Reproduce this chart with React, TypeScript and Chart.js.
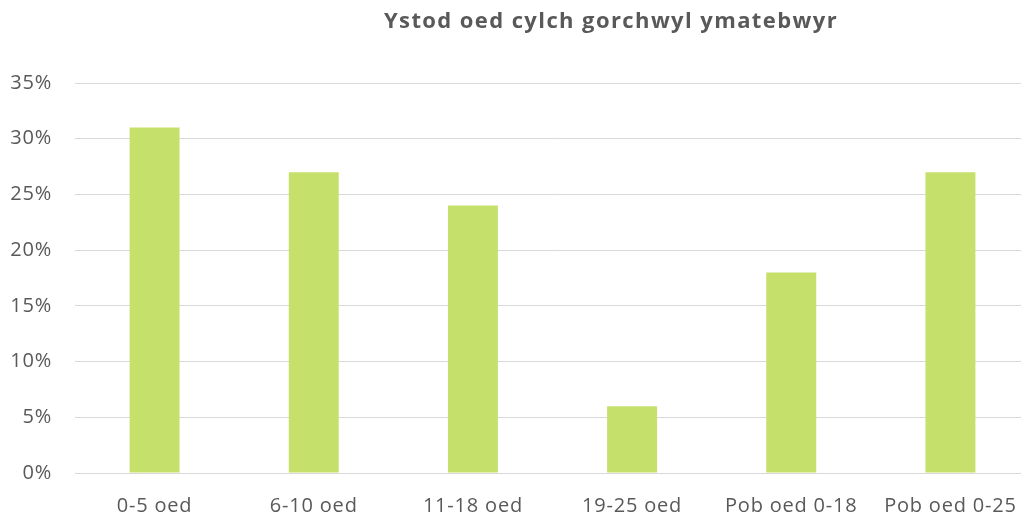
import React, { useEffect, useRef } from "react";
import { Chart, registerables } from "chart.js";

Chart.register(...registerables);

const TITLE = "Ystod oed cylch gorchwyl ymatebwyr";
const CATEGORIES = ["0-5 oed", "6-10 oed", "11-18 oed", "19-25 oed", "Pob oed 0-18", "Pob oed 0-25"];
const VALUES = [0.31, 0.27, 0.24, 0.06, 0.18, 0.27];
const Y_MAX = 0.35;
const Y_STEP = 0.05;

const FONT = "'Open Sans', 'DejaVu Sans', sans-serif";
const TEXT_COLOR = "#595959";
const BAR_COLOR = "#C5E16C";
const GRID_COLOR = "#D9D9D9";

const spacingPlugin = {
  id: "letterSpacing",
  beforeInit(chart: any) {
    chart.ctx.letterSpacing = "0.8px";
  },
  beforeDraw(chart: any) {
    chart.ctx.letterSpacing = "0.8px";
  },
};

const titlePlugin = {
  id: "customTitle",
  afterDraw(chart: any) {
    const ctx = chart.ctx;
    ctx.save();
    ctx.letterSpacing = "1.4px";
    ctx.font = `bold 22px ${FONT}`;
    ctx.fillStyle = TEXT_COLOR;
    ctx.textAlign = "center";
    ctx.textBaseline = "middle";
    ctx.fillText(TITLE, 611, 22);
    ctx.restore();
  },
};

export default function App() {
  const ref = useRef<HTMLCanvasElement | null>(null);
  useEffect(() => {
    if (!ref.current) return;
    const ctx2d: any = ref.current.getContext("2d");
    if (ctx2d) ctx2d.letterSpacing = "0.8px";
    const chart = new Chart(ref.current, {
      type: "bar",
      data: {
        labels: CATEGORIES,
        datasets: [
          {
            data: VALUES,
            backgroundColor: BAR_COLOR,
            borderWidth: 0,
            categoryPercentage: 1,
            barPercentage: 0.314,
          },
        ],
      },
      options: {
        animation: false,
        responsive: false,
        layout: { padding: { top: 83, right: 5, left: 0, bottom: 0 } },
        plugins: { legend: { display: false }, title: { display: false }, tooltip: { enabled: false } },
        scales: {
          x: {
            grid: { display: false, drawTicks: false },
            border: { display: true, color: GRID_COLOR, width: 1 },
            ticks: { color: TEXT_COLOR, font: { family: FONT, size: 20 }, padding: 21, maxRotation: 0, autoSkip: false },
            afterFit: (s: any) => { s.height = 46; },
          },
          y: {
            min: 0,
            max: Y_MAX,
            grid: { color: GRID_COLOR, drawTicks: false, lineWidth: 1 },
            border: { display: false },
            ticks: {
              stepSize: Y_STEP,
              color: TEXT_COLOR,
              font: { family: FONT, size: 20 },
              padding: 23,
              callback: (v: any) => `${Math.round(Number(v) * 100)}%`,
            },
            afterFit: (s: any) => { s.width = 75; },
          },
        },
      },
      plugins: [spacingPlugin, titlePlugin],
    });
    return () => chart.destroy();
  }, []);
  return (
    <div style={{ position: "fixed", left: 0, top: 0, width: 1021, height: 519, overflow: "hidden", background: "#fff" }}>
      <canvas ref={ref} width={1035} height={519} style={{ width: 1035, height: 519, display: "block" }} />
    </div>
  );
}
